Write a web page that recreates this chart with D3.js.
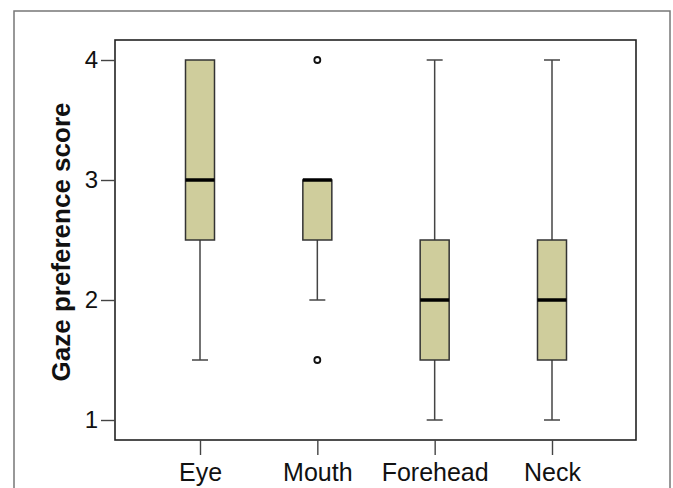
<!DOCTYPE html>
<html>
<head>
<meta charset="utf-8">
<script src="https://cdn.jsdelivr.net/npm/d3@7"></script>
<style>
  body { margin: 0; background: #fff; }
  svg text { font-family: "Liberation Sans", Arial, sans-serif; fill: #111; }
</style>
</head>
<body>
<div class="chart"></div>
<script>
var categories = ["Eye", "Mouth", "Forehead", "Neck"];
var whiskerLow = [1.5, 2, 1, 1];
var q1 = [2.5, 2.5, 1.5, 1.5];
var medians = [3, 3, 2, 2];
var q3 = [4, 3, 2.5, 2.5];
var whiskerHigh = [4, 3, 4, 4];
var outliers = [[], [4, 1.5], [], []];
var yTicks = [1, 2, 3, 4];

var width = 673, height = 488;
var svg = d3.select(".chart").append("svg").attr("width", width).attr("height", height);

// outer figure frame
svg.append("rect").attr("x", 14).attr("y", 11).attr("width", 656).attr("height", 490)
  .style("fill", "none").style("stroke", "#777").style("stroke-width", 1.5);

var plotLeft = 115, plotRight = 636, plotTop = 40, plotBottom = 440;

var y = d3.scaleLinear().domain([1, 4]).range([420, 60]);
var x = d3.scalePoint().domain(categories).range([200, 552]);

var boxW = 29, capW = 16;

// plot box
svg.append("rect").attr("x", plotLeft).attr("y", plotTop)
  .attr("width", plotRight - plotLeft).attr("height", plotBottom - plotTop)
  .style("fill", "none").style("stroke", "#222").style("stroke-width", 1.6);

// y axis
var yAxis = svg.append("g").attr("transform", "translate(" + plotLeft + ",0)")
  .call(d3.axisLeft(y).tickValues(yTicks).tickSize(14).tickPadding(3).tickFormat(d3.format("d")));
yAxis.select(".domain").remove();
yAxis.selectAll("line").style("stroke", "#444").style("stroke-width", 1.4);
yAxis.selectAll("text").style("font-size", "24px").style("fill", "#111");

// x axis
var xAxis = svg.append("g").attr("transform", "translate(0," + plotBottom + ")")
  .call(d3.axisBottom(x).tickSize(15).tickPadding(8));
xAxis.select(".domain").remove();
xAxis.selectAll("line").style("stroke", "#444").style("stroke-width", 1.4);
xAxis.selectAll("text").style("font-size", "25px").style("fill", "#111");

// y label
svg.append("text").attr("transform", "translate(70,242) rotate(-90)")
  .attr("text-anchor", "middle").style("font-size", "26px").style("font-weight", "bold")
  .text("Gaze preference score");

var g = svg.selectAll("g.box").data(categories).enter().append("g").attr("class", "box");

// whiskers
g.append("line").attr("x1", function(d) { return x(d); }).attr("x2", function(d) { return x(d); })
  .attr("y1", function(d, i) { return y(whiskerLow[i]); }).attr("y2", function(d, i) { return y(q1[i]); })
  .style("stroke", "#444").style("stroke-width", 1.5);
g.append("line").attr("x1", function(d) { return x(d); }).attr("x2", function(d) { return x(d); })
  .attr("y1", function(d, i) { return y(whiskerHigh[i]); }).attr("y2", function(d, i) { return y(q3[i]); })
  .style("stroke", "#444").style("stroke-width", 1.5);
// caps
g.append("line").attr("x1", function(d) { return x(d) - capW / 2; }).attr("x2", function(d) { return x(d) + capW / 2; })
  .attr("y1", function(d, i) { return y(whiskerLow[i]); }).attr("y2", function(d, i) { return y(whiskerLow[i]); })
  .style("stroke", "#444").style("stroke-width", 1.5);
g.filter(function(d, i) { return whiskerHigh[i] > q3[i]; })
  .append("line").attr("x1", function(d) { return x(d) - capW / 2; }).attr("x2", function(d) { return x(d) + capW / 2; })
  .attr("y1", function(d) { return y(whiskerHigh[categories.indexOf(d)]); })
  .attr("y2", function(d) { return y(whiskerHigh[categories.indexOf(d)]); })
  .style("stroke", "#444").style("stroke-width", 1.5);

// boxes
g.append("rect").attr("x", function(d) { return x(d) - boxW / 2; })
  .attr("y", function(d, i) { return y(q3[i]); })
  .attr("width", boxW)
  .attr("height", function(d, i) { return y(q1[i]) - y(q3[i]); })
  .style("fill", "#cfcd9c").style("stroke", "#333").style("stroke-width", 1.5);

// medians
g.append("line").attr("x1", function(d) { return x(d) - boxW / 2; }).attr("x2", function(d) { return x(d) + boxW / 2; })
  .attr("y1", function(d, i) { return y(medians[i]); }).attr("y2", function(d, i) { return y(medians[i]); })
  .style("stroke", "#000").style("stroke-width", 3.5);

// outliers
categories.forEach(function(c, i) {
  svg.selectAll(null).data(outliers[i]).enter().append("circle")
    .attr("cx", x(c)).attr("cy", function(v) { return y(v); }).attr("r", 3)
    .style("fill", "#fff").style("stroke", "#111").style("stroke-width", 1.8);
});
</script>
</body>
</html>
